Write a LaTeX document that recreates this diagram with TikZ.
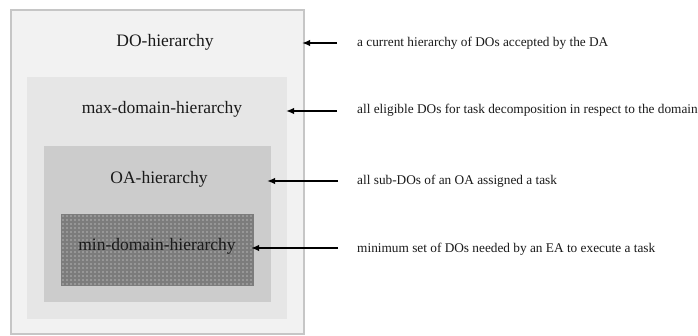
\documentclass[tikz,border=0pt]{standalone}
\usepackage{fontspec}
\setmainfont{Liberation Serif}
\usetikzlibrary{arrows.meta}
\definecolor{outerfill}{HTML}{F2F2F2}
\definecolor{outerline}{HTML}{C6C6C6}
\definecolor{maxfill}{HTML}{E6E6E6}
\definecolor{oafill}{HTML}{CCCCCC}
\definecolor{minfill}{HTML}{7C7C7C}
\definecolor{mindot}{HTML}{B4B4B4}
\definecolor{txt}{HTML}{1A1A1A}
\tikzset{
  box/.style={anchor=north west, inner sep=0pt, outer sep=0pt},
  boxlabel/.style={font=\fontsize{17.5}{20}\selectfont, text=txt, inner sep=0pt},
  desc/.style={anchor=west, font=\fontsize{13.3}{15}\selectfont, text=txt, inner sep=0pt},
  pointer/.style={line width=2.6pt, -{Latex[length=8pt,width=6.5pt]}, black},
}
\begin{document}
\begin{tikzpicture}[x=1pt,y=-1pt]
\useasboundingbox (0,0) rectangle (698,336);
\fill[white] (0,0) rectangle (698,336);
% boxes
\node[box, fill=outerfill, draw=outerline, line width=1.5pt, minimum width=293pt, minimum height=324pt] (dobox) at (11,10) {};
\node[box, fill=maxfill, minimum width=260pt, minimum height=242pt] (maxbox) at (27,77) {};
\node[box, fill=oafill, minimum width=227pt, minimum height=156pt] (oabox) at (44,146) {};
\node[box, fill=minfill, minimum width=193pt, minimum height=72pt] (minbox) at (61,214) {};
\foreach \i in {0,...,47} {
  \foreach \j in {0,...,17} {
    \fill[mindot] (63+\i*4, 216+\j*4) circle (0.9pt);
  }
}
% labels
\node[boxlabel] (dolab) at (165,42) {DO-hierarchy};
\node[boxlabel] (maxlab) at (162,109) {max-domain-hierarchy};
\node[boxlabel] (oalab) at (159,179) {OA-hierarchy};
\node[boxlabel] (minlab) at (157,246) {min-domain-hierarchy};
% descriptions
\node[desc] (d1) at (357,43) {a current hierarchy of DOs accepted by the DA};
\node[desc] (d2) at (357,110) {all eligible DOs for task decomposition in respect to the domain};
\node[desc] (d3) at (357,181) {all sub-DOs of an OA assigned a task};
\node[desc] (d4) at (357,249) {minimum set of DOs needed by an EA to execute a task};
% pointer coordinates
\coordinate (s1) at (337,43);
\coordinate (s2) at (337,111);
\coordinate (s3) at (338,181);
\coordinate (s4) at (338,248);
\coordinate (t1) at (302,43);
\coordinate (t2) at (286,111);
\coordinate (t3) at (267,181);
\coordinate (t4) at (251,248);
\draw[pointer] (s1) -- (t1);
\draw[pointer] (s2) -- (t2);
\draw[pointer] (s3) -- (t3);
\draw[pointer] (s4) -- (t4);
\end{tikzpicture}
\end{document}
